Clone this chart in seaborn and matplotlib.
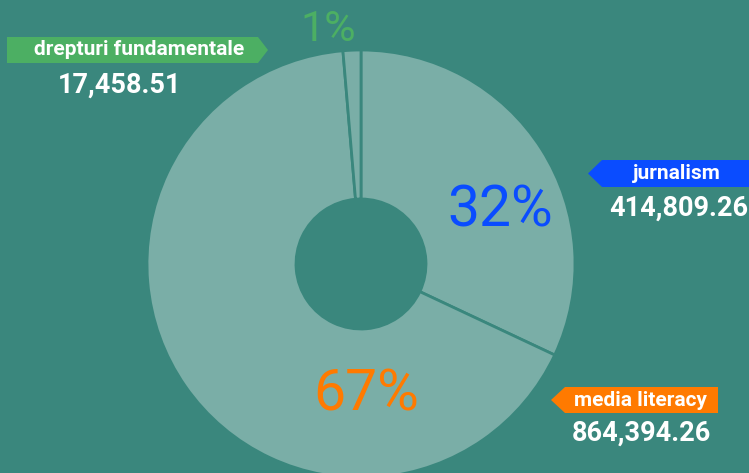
import matplotlib
matplotlib.use('Agg')
import matplotlib.pyplot as plt
import seaborn as sns
from matplotlib.patches import Polygon

# data
categories = ['jurnalism', 'media literacy', 'drepturi fundamentale']
amounts = [414809.26, 864394.26, 17458.51]
tag_colors = ['#0a4cff', '#ff7a00', '#4caf63']

BG = '#3a877d'
SLICE = '#7aaea7'


def main():
    sns.set_theme(style='white')
    plt.rcParams['font.family'] = ['Roboto', 'DejaVu Sans']

    fig = plt.figure(figsize=(7.49, 4.73), dpi=100, facecolor=BG)
    ax = fig.add_axes([0, 0, 1, 1])
    ax.set_facecolor(BG)

    H = 473
    cx, cy, r_out, r_in = 361, H - 264, 214, 65
    ax.pie(amounts, colors=[SLICE] * len(amounts), startangle=90, counterclock=False,
           center=(cx, cy), radius=r_out,
           wedgeprops=dict(width=r_out - r_in, edgecolor=BG, linewidth=2))
    ax.set_xlim(0, 749)
    ax.set_ylim(0, H)
    ax.set_aspect('equal')
    ax.axis('off')

    total = sum(amounts)
    pct = [a / total * 100 for a in amounts]

    # percentage labels (x, y in pixels from top-left, fontsize)
    pct_pos = [(500, 211, 41), (366, 395, 41), (328, 30, 31)]
    for p, col, (x, y, fs) in zip(pct, tag_colors, pct_pos):
        ax.text(x, H - y, f'{p:.0f}%', color=col, fontsize=fs,
                ha='center', va='center')

    # tags: (body left, body right, top, bottom, tip x, direction, text x)
    tags = [(602, 749, 160, 187, 588, 'left', 677),
            (565, 718, 387, 413, 551, 'left', 640),
            (7, 258, 37, 63, 268, 'right', 139)]
    value_pos = [(679, 208), (641, 433), (120, 85)]
    for cat, amt, col, tg, vp in zip(categories, amounts, tag_colors, tags, value_pos):
        l, rgt, t, b, tip, d, tx = tg
        mid = (t + b) / 2
        if d == 'left':
            pts = [(tip, mid), (l, t), (rgt, t), (rgt, b), (l, b)]
        else:
            pts = [(l, t), (rgt, t), (tip, mid), (rgt, b), (l, b)]
        ax.add_patch(Polygon([(x, H - y) for x, y in pts], closed=True,
                             facecolor=col, edgecolor='none'))
        ax.text(tx, H - mid, cat, color='white', fontsize=15, fontweight='bold',
                ha='center', va='center')
        ax.text(vp[0], H - vp[1], f'{amt:,.2f}', color='white', fontsize=19.5,
                fontweight='bold', ha='center', va='center')

    fig.savefig('out.png', dpi=100, facecolor=BG)
    plt.close(fig)


if __name__ == '__main__':
    main()
